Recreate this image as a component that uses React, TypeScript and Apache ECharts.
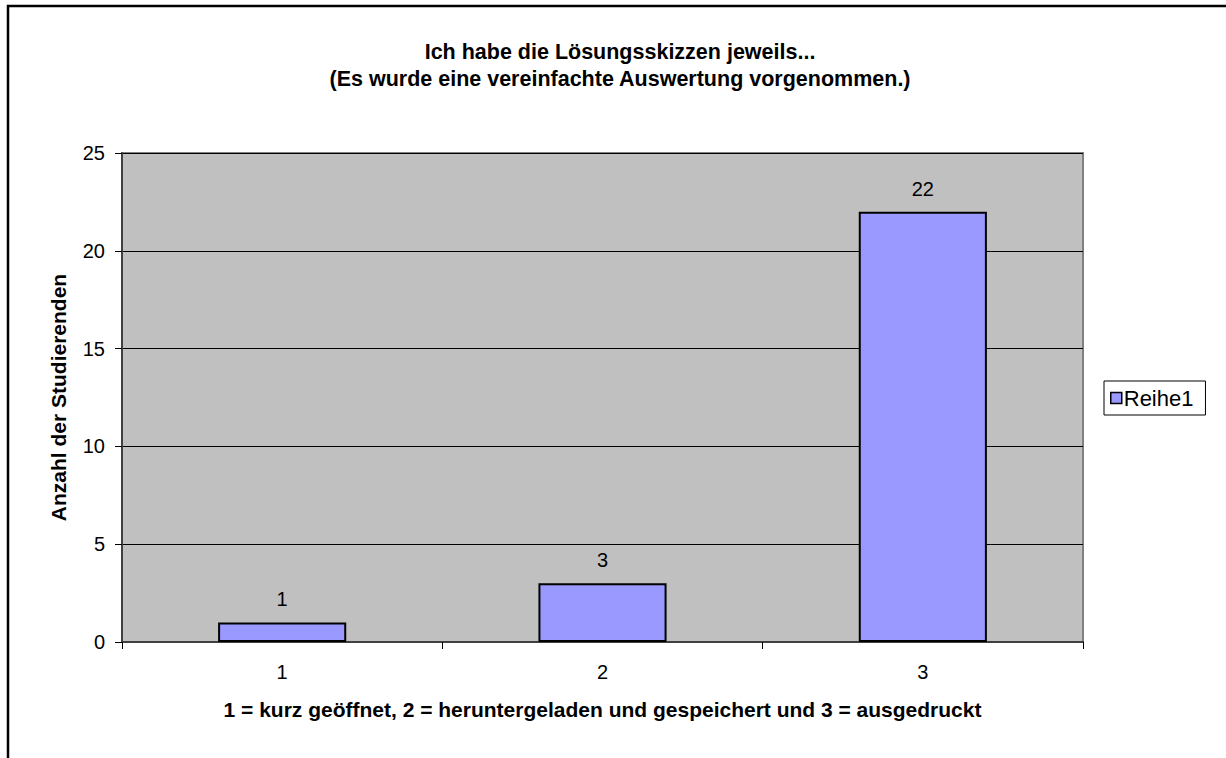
import React, { useEffect, useRef } from "react";
import * as echarts from "echarts";

const categories = ["1", "2", "3"];
const seriesName = "Reihe1";
const values = [1, 3, 22];
const titleLines = [
  "Ich habe die Lösungsskizzen jeweils...",
  "(Es wurde eine vereinfachte Auswertung vorgenommen.)",
];
const xAxisName = "1 = kurz geöffnet, 2 = heruntergeladen und gespeichert und 3 = ausgedruckt";
const yAxisName = "Anzahl der Studierenden";

const FONT = "'Liberation Sans', Arial, sans-serif";

export default function App() {
  const ref = useRef<HTMLDivElement>(null);
  useEffect(() => {
    if (!ref.current) return;
    const chart = echarts.init(ref.current, undefined, { renderer: "svg" });
    chart.setOption({
      animation: false,
      backgroundColor: "#ffffff",
      textStyle: { fontFamily: FONT },
      graphic: [
        {
          type: "rect",
          shape: { x: 8, y: 6, width: 1300, height: 900 },
          style: { fill: "none", stroke: "#000", lineWidth: 2.5 },
          silent: true,
        },
        {
          type: "text",
          x: 620,
          y: 38,
          style: {
            text: titleLines.join("\n"),
            fill: "#000",
            font: `bold 21.5px ${FONT}`,
            align: "center",
            lineHeight: 27,
          },
        },
      ],
      legend: {
        left: 1104,
        top: 381,
        orient: "vertical",
        data: [seriesName],
        icon: "rect",
        itemWidth: 11,
        itemHeight: 11,
        itemGap: 4,
        padding: [6, 12, 6, 6],
        borderColor: "#000",
        borderWidth: 1,
        borderRadius: 0,
        textStyle: { fontSize: 22, color: "#000", fontFamily: FONT, padding: [0, 0, 0, -3] },
        itemStyle: { borderColor: "#000", borderWidth: 1.5 },
      },
      grid: {
        left: 122,
        top: 153,
        right: 143,
        bottom: 116,
        show: true,
        backgroundColor: "#C0C0C0",
        borderColor: "#808080",
        borderWidth: 2,
        containLabel: false,
      },
      xAxis: {
        type: "category",
        data: categories,
        name: xAxisName,
        nameLocation: "middle",
        nameGap: 57,
        nameTextStyle: { fontSize: 21, fontWeight: "bold", color: "#000", fontFamily: FONT },
        axisLine: { show: true, lineStyle: { color: "#404040", width: 2 } },
        axisTick: { show: true, alignWithLabel: false, length: 7, lineStyle: { color: "#000", width: 1 } },
        axisLabel: { fontSize: 20, color: "#000", margin: 20, fontFamily: FONT },
        splitLine: { show: false },
      },
      yAxis: {
        type: "value",
        min: 0,
        max: 25,
        interval: 5,
        name: yAxisName,
        nameLocation: "middle",
        nameGap: 53,
        nameRotate: 90,
        nameTextStyle: { fontSize: 21, fontWeight: "bold", color: "#000", fontFamily: FONT },
        axisLine: { show: true, lineStyle: { color: "#404040", width: 2 } },
        axisTick: { show: true, length: 7, lineStyle: { color: "#000", width: 1 } },
        axisLabel: { fontSize: 20, color: "#000", margin: 17, fontFamily: FONT },
        splitLine: { show: true, lineStyle: { color: "#000", width: 1 } },
      },
      series: [
        {
          name: seriesName,
          type: "bar",
          data: values,
          barCategoryGap: "60%",
          itemStyle: { color: "#9999FF", borderColor: "#000", borderWidth: 2 },
          label: {
            show: true,
            position: "top",
            distance: 13,
            fontSize: 20,
            color: "#000",
            fontFamily: FONT,
          },
        },
      ],
    });
    return () => chart.dispose();
  }, []);
  return (
    <div
      ref={ref}
      style={{ position: "fixed", left: 0, top: 0, width: 1226, height: 758 }}
    />
  );
}
